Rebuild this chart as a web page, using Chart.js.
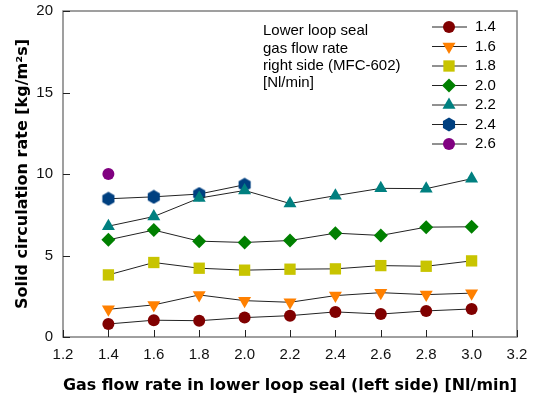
<!DOCTYPE html>
<html>
<head>
<meta charset="utf-8">
<script src="https://cdn.jsdelivr.net/npm/chart.js@4"></script>
<style>
  body { margin: 0; background: #fff; }
  #wrap { width: 533px; height: 399px; }
</style>
</head>
<body>
<div id="wrap"><canvas id="chart" width="533" height="399"></canvas></div>
<script>
// left-side gas flow rate [Nl/min]
var xValues = [1.4, 1.6, 1.8, 2.0, 2.2, 2.4, 2.6, 2.8, 3.0];

// right-side gas flow rate series (legend labels)
var seriesLabels = ["1.4", "1.6", "1.8", "2.0", "2.2", "2.4", "2.6"];

// solid circulation rate [kg/m2s]
var s14 = [0.80, 1.03, 1.00, 1.19, 1.31, 1.54, 1.41, 1.60, 1.72];
var s16 = [1.70, 1.97, 2.58, 2.23, 2.13, 2.54, 2.72, 2.60, 2.69];
var s18 = [3.81, 4.57, 4.22, 4.10, 4.16, 4.18, 4.38, 4.34, 4.67];
var s20 = [5.96, 6.56, 5.88, 5.80, 5.92, 6.37, 6.23, 6.74, 6.76];
var s22 = [6.80, 7.39, 8.52, 8.99, 8.19, 8.67, 9.12, 9.10, 9.71];
var s24 = [8.48, 8.60, 8.77, 9.34];
var s26 = [10.0];

var xTicks = [1.2, 1.4, 1.6, 1.8, 2.0, 2.2, 2.4, 2.6, 2.8, 3.0, 3.2];
var yTicks = [0, 5, 10, 15, 20];

var colors = ["#800000", "#ff8000", "#c8c400", "#008000", "#008080", "#004080", "#800080"];

// hexagon marker
function makeHex(color) {
  var c = document.createElement("canvas");
  c.width = 14; c.height = 15;
  var g = c.getContext("2d");
  g.fillStyle = color;
  g.beginPath();
  for (var i = 0; i < 6; i++) {
    var a = Math.PI / 2 + i * Math.PI / 3;
    var px = 7 + 7 * Math.cos(a), py = 7.5 - 7 * Math.sin(a);
    if (i == 0) g.moveTo(px, py); else g.lineTo(px, py);
  }
  g.closePath();
  g.fill();
  return c;
}

var markers = [
  { style: "circle", r: 6, rot: 0 },
  { style: "triangle", r: 7.5, rot: 180 },
  { style: "rect", r: 8, rot: 0 },
  { style: "rectRot", r: 7, rot: 0 },
  { style: "triangle", r: 7.5, rot: 0 },
  { style: makeHex(colors[5]), r: 7, rot: 0 },
  { style: "circle", r: 6, rot: 0 }
];

var allSeries = [s14, s16, s18, s20, s22, s24, s26];

var datasets = allSeries.map(function (vals, i) {
  return {
    label: seriesLabels[i],
    data: vals.map(function (v, j) { return { x: xValues[j], y: v }; }),
    borderColor: "#222",
    borderWidth: 1,
    backgroundColor: colors[i],
    pointBackgroundColor: colors[i],
    pointBorderColor: colors[i],
    pointBorderWidth: 0,
    pointStyle: markers[i].style,
    pointRadius: markers[i].r,
    pointRotation: markers[i].rot,
    fill: false,
    tension: 0
  };
});

var boxPlugin = {
  id: "box",
  afterDatasetsDraw: function (chart) {
    var ctx = chart.ctx, a = chart.chartArea;
    var xs = chart.scales.x, ys = chart.scales.y;
    ctx.save();
    ctx.strokeStyle = "#808080";
    ctx.lineWidth = 1.5;
    ctx.strokeRect(a.left, a.top, a.right - a.left, a.bottom - a.top);
    ctx.strokeStyle = "#222";
    ctx.lineWidth = 1;
    xTicks.forEach(function (t) {
      var px = Math.round(xs.getPixelForValue(t)) + 0.5;
      ctx.beginPath(); ctx.moveTo(px, a.bottom); ctx.lineTo(px, a.bottom - 7); ctx.stroke();
    });
    yTicks.forEach(function (t) {
      var py = Math.round(ys.getPixelForValue(t)) + 0.5;
      ctx.beginPath(); ctx.moveTo(a.left, py); ctx.lineTo(a.left + 7, py); ctx.stroke();
    });

    // description text
    ctx.fillStyle = "#000";
    ctx.font = "15px 'Liberation Sans', Arial, sans-serif";
    ctx.textAlign = "left";
    ctx.textBaseline = "middle";
    var desc = ["Lower loop seal", "gas flow rate", "right side (MFC-602)", "[Nl/min]"];
    desc.forEach(function (s, i) { ctx.fillText(s, 263, 31 + i * 17.4); });

    // legend
    for (var i = 0; i < seriesLabels.length; i++) {
      var y = 27 + i * 19.5;
      ctx.strokeStyle = "#222";
      ctx.lineWidth = 1;
      ctx.beginPath(); ctx.moveTo(432, y); ctx.lineTo(467, y); ctx.stroke();
      ctx.fillStyle = colors[i];
      ctx.strokeStyle = colors[i];
      Chart.helpers.drawPoint(ctx, {
        pointStyle: markers[i].style,
        radius: markers[i].r,
        rotation: markers[i].rot,
        borderWidth: 0
      }, 449, y);
      ctx.fillStyle = "#000";
      ctx.fillText(seriesLabels[i], 475, y);
    }
    ctx.restore();
  }
};

new Chart(document.getElementById("chart"), {
  type: "line",
  data: { datasets: datasets },
  plugins: [boxPlugin],
  options: {
    responsive: false,
    animation: false,
    layout: { padding: { left: 0, right: 16, top: 11, bottom: 0 } },
    plugins: { legend: { display: false }, tooltip: { enabled: false } },
    scales: {
      x: {
        type: "linear",
        min: 1.2, max: 3.2,
        afterFit: function (s) { s.height = 62; s.paddingLeft = 0; s.paddingRight = 0; },
        afterBuildTicks: function (s) { s.ticks = xTicks.map(function (v) { return { value: v }; }); },
        grid: { display: false, drawTicks: false },
        border: { display: false },
        ticks: {
          padding: 9,
          color: "#111",
          font: { family: "'Liberation Sans', Arial, sans-serif", size: 15 },
          callback: function (v) { return Number(v).toFixed(1); }
        },
        title: {
          display: true,
          text: "Gas flow rate in lower loop seal (left side) [Nl/min]",
          color: "#000",
          font: { family: "'DejaVu Sans', Verdana, sans-serif", size: 16, weight: "bold" },
          padding: { top: 0, bottom: 4 }
        }
      },
      y: {
        type: "linear",
        min: 0, max: 20,
        afterFit: function (s) { s.width = 63; s.paddingTop = 0; s.paddingBottom = 0; },
        afterBuildTicks: function (s) { s.ticks = yTicks.map(function (v) { return { value: v }; }); },
        grid: { display: false, drawTicks: false },
        border: { display: false },
        ticks: {
          padding: 10,
          color: "#111",
          font: { family: "'Liberation Sans', Arial, sans-serif", size: 15 }
        },
        title: {
          display: true,
          text: "Solid circulation rate [kg/m\u00B2s]",
          color: "#000",
          font: { family: "'DejaVu Sans', Verdana, sans-serif", size: 16, weight: "bold" },
          padding: { top: 13, bottom: 0 }
        }
      }
    }
  }
});
</script>
</body>
</html>
